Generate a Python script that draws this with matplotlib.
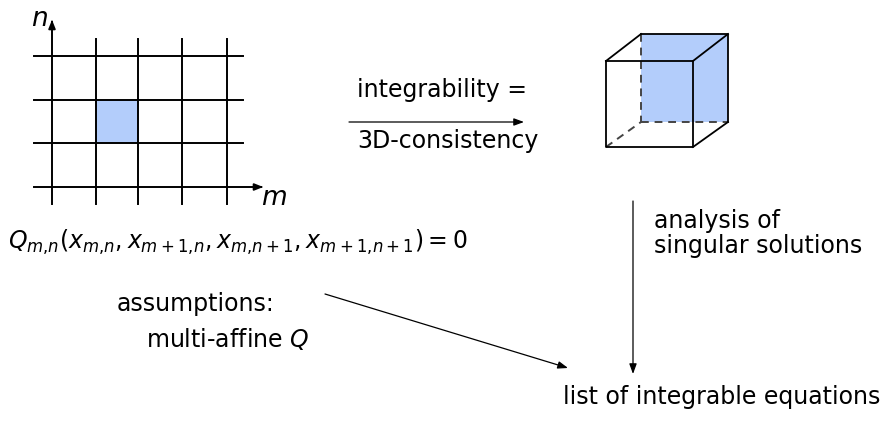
import matplotlib
matplotlib.use("Agg")
import matplotlib.pyplot as plt
from matplotlib.patches import Polygon

plt.rcParams['mathtext.fontset'] = 'dejavusans'
plt.rcParams['font.family'] = ['DejaVu Sans']

# ---- diagram geometry (pixel coordinates, y downward) ----
grid_x = [52, 96, 138, 182, 227]
grid_y = [56, 100, 143, 187]
grid_xspan = (34, 243)
grid_yspan = (39, 204)
cell = (96, 100, 138, 143)          # highlighted square x0,y0,x1,y1
axis_n_tip = 17
axis_m_tip = 266

front = (606, 61, 693, 147)          # cube front face x0,y0,x1,y1
back = (641, 34, 728, 122)           # cube back face

labels = {
    "top": "integrability =",
    "bottom": "3D-consistency",
    "eq": r"$Q_{m{,}n}(x_{m{,}n},x_{m+1{,}n},x_{m{,}n+1},x_{m+1{,}n+1})=0$",
    "ass": "assumptions:",
    "ma": r"multi-affine $Q$",
    "an1": "analysis of",
    "an2": "singular solutions",
    "list": "list of integrable equations",
}

BLUE = '#b3cdfb'
FS = 17
W, H = 884, 423
fig = plt.figure(figsize=(W / 100, H / 100), dpi=100)
ax = fig.add_axes([0, 0, 1, 1])
ax.set_xlim(0, W)
ax.set_ylim(H, 0)
ax.axis('off')

lw = 1.4
# grid
ax.add_patch(Polygon([(cell[0], cell[1]), (cell[2], cell[1]), (cell[2], cell[3]), (cell[0], cell[3])],
                     closed=True, facecolor=BLUE, edgecolor='none', zorder=1))
for x in grid_x[1:]:
    ax.plot([x, x], grid_yspan, color='black', lw=lw, zorder=2)
for y in grid_y[:-1]:
    ax.plot(grid_xspan, [y, y], color='black', lw=lw, zorder=2)
# axes with arrows
ax.plot([grid_x[0], grid_x[0]], [grid_yspan[1], axis_n_tip + 6], color='black', lw=lw, zorder=2)
ax.annotate('', xy=(grid_x[0], axis_n_tip), xytext=(grid_x[0], axis_n_tip + 8),
            arrowprops=dict(arrowstyle='-|>,head_length=0.5,head_width=0.2', color='black', lw=lw))
ax.plot([grid_xspan[0], axis_m_tip - 6], [grid_y[-1], grid_y[-1]], color='black', lw=lw, zorder=2)
ax.annotate('', xy=(axis_m_tip, grid_y[-1]), xytext=(axis_m_tip - 8, grid_y[-1]),
            arrowprops=dict(arrowstyle='-|>,head_length=0.5,head_width=0.2', color='black', lw=lw))
ax.text(31, 26, r'$n$', fontsize=19, ha='left', va='baseline')
ax.text(261, 205, r'$m$', fontsize=19, ha='left', va='baseline')

# cube
bx0, by0, bx1, by1 = back
fx0, fy0, fx1, fy1 = front
ax.add_patch(Polygon([(bx0, by0), (bx1, by0), (bx1, by1), (bx0, by1)], closed=True,
                     facecolor=BLUE, edgecolor='none', zorder=1))
dash = dict(color='#444444', lw=1.4, ls=(0, (4, 3)), zorder=2)
solid = dict(color='black', lw=1.3, zorder=3)
ax.plot([bx0, bx0], [by0, by1], **dash)
ax.plot([bx0, bx1], [by1, by1], **dash)
ax.plot([fx0, bx0], [fy1, by1], **dash)
ax.plot([fx0, fx1, fx1, fx0, fx0], [fy0, fy0, fy1, fy1, fy0], **solid)
ax.plot([bx0, bx1, bx1], [by0, by0, by1], **solid)
ax.plot([fx0, bx0], [fy0, by0], **solid)
ax.plot([fx1, bx1], [fy0, by0], **solid)
ax.plot([fx1, bx1], [fy1, by1], **solid)

arrow_kw = dict(arrowstyle='-|>,head_length=0.6,head_width=0.22', color='black', lw=0.9,
                shrinkA=0, shrinkB=0)
# horizontal arrow
ax.annotate('', xy=(524, 122), xytext=(349, 122), arrowprops=arrow_kw)
ax.text(357, 97, labels["top"], fontsize=FS, ha='left', va='baseline')
ax.text(357, 148, labels["bottom"], fontsize=FS, ha='left', va='baseline')

# vertical arrow
ax.annotate('', xy=(633, 374), xytext=(633, 201), arrowprops=arrow_kw)
ax.text(654, 228, labels["an1"], fontsize=FS, ha='left', va='baseline')
ax.text(654, 253, labels["an2"], fontsize=FS, ha='left', va='baseline')

# equation and assumptions
ax.text(8, 249, labels["eq"], fontsize=FS, ha='left', va='baseline')
ax.text(117, 311, labels["ass"], fontsize=FS, ha='left', va='baseline')
ax.text(146, 347, labels["ma"], fontsize=FS, ha='left', va='baseline')
ax.annotate('', xy=(568, 368), xytext=(325, 294), arrowprops=arrow_kw)

ax.text(563, 404, labels["list"], fontsize=FS, ha='left', va='baseline')

fig.savefig('out.png', dpi=100)
